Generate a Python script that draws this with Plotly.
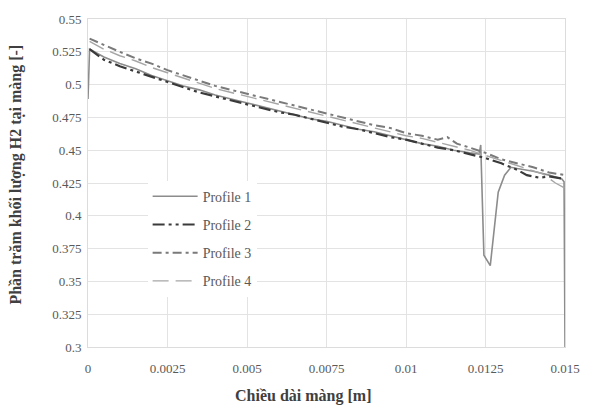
import plotly.graph_objects as go

# ---- data ----
x1 = [0, 0.00005, 0.0005, 0.001, 0.0015, 0.002, 0.0025, 0.003, 0.0035, 0.004, 0.0045, 0.005,
      0.0055, 0.006, 0.0065, 0.007, 0.0075, 0.008, 0.0085, 0.009, 0.0095, 0.010, 0.0105, 0.011,
      0.0115, 0.012, 0.0123, 0.01235, 0.01245, 0.01265, 0.0128, 0.0129, 0.0131, 0.0133, 0.0135,
      0.014, 0.0145, 0.0149, 0.01497, 0.01500]
profile1 = [0.489, 0.527, 0.521, 0.516, 0.512, 0.507, 0.503, 0.499, 0.496, 0.492, 0.489, 0.486,
            0.483, 0.480, 0.477, 0.474, 0.472, 0.469, 0.466, 0.464, 0.461, 0.458, 0.455, 0.453,
            0.450, 0.448, 0.447, 0.454, 0.370, 0.362, 0.395, 0.418, 0.431, 0.437, 0.436,
            0.434, 0.431, 0.428, 0.426, 0.300]

x2 = [0.00005, 0.0005, 0.001, 0.0015, 0.002, 0.0025, 0.003, 0.0035, 0.004, 0.0045, 0.005, 0.0055,
      0.006, 0.0065, 0.007, 0.0075, 0.008, 0.0085, 0.009, 0.0095, 0.010, 0.0105, 0.011, 0.0115,
      0.012, 0.0125, 0.013, 0.0135, 0.0138, 0.0142, 0.0145, 0.015]
profile2 = [0.527, 0.519, 0.514, 0.510, 0.506, 0.502, 0.498, 0.494, 0.491, 0.488, 0.485, 0.482,
            0.479, 0.477, 0.474, 0.471, 0.468, 0.466, 0.463, 0.460, 0.458, 0.455, 0.452, 0.450,
            0.447, 0.444, 0.440, 0.435, 0.431, 0.429, 0.430, 0.428]

x3 = [0.00005, 0.0005, 0.001, 0.0015, 0.002, 0.0025, 0.003, 0.0035, 0.004, 0.0045, 0.005, 0.0055,
      0.006, 0.0065, 0.007, 0.0075, 0.008, 0.0085, 0.009, 0.0095, 0.010, 0.0105, 0.011, 0.0113,
      0.0116, 0.012, 0.0125, 0.013, 0.0135, 0.014, 0.0145, 0.015]
profile3 = [0.535, 0.530, 0.525, 0.520, 0.516, 0.511, 0.507, 0.503, 0.499, 0.496, 0.493, 0.490,
            0.487, 0.484, 0.481, 0.478, 0.475, 0.472, 0.469, 0.467, 0.463, 0.461, 0.458, 0.460,
            0.455, 0.452, 0.448, 0.443, 0.440, 0.437, 0.433, 0.431]

x4 = [0.00005, 0.0005, 0.001, 0.0015, 0.002, 0.0025, 0.003, 0.0035, 0.004, 0.0045, 0.005, 0.0055,
      0.006, 0.0065, 0.007, 0.0075, 0.008, 0.0085, 0.009, 0.0095, 0.010, 0.0105, 0.011, 0.0115,
      0.012, 0.0125, 0.013, 0.0135, 0.014, 0.0143, 0.0147, 0.015]
profile4 = [0.533, 0.527, 0.522, 0.518, 0.513, 0.509, 0.505, 0.501, 0.497, 0.494, 0.491, 0.488,
            0.485, 0.482, 0.479, 0.476, 0.473, 0.470, 0.467, 0.464, 0.461, 0.459, 0.456, 0.453,
            0.450, 0.446, 0.442, 0.438, 0.434, 0.432, 0.425, 0.421]

names = ["Profile 1", "Profile 2", "Profile 3", "Profile 4"]
x_ticks = [0, 0.0025, 0.005, 0.0075, 0.01, 0.0125, 0.015]
x_ticktext = ["0", "0.0025", "0.005", "0.0075", "0.01", "0.0125", "0.015"]
y_ticks = [0.3, 0.325, 0.35, 0.375, 0.4, 0.425, 0.45, 0.475, 0.5, 0.525, 0.55]
y_ticktext = ["0.3", "0.325", "0.35", "0.375", "0.4", "0.425", "0.45", "0.475", "0.5", "0.525", "0.55"]
x_title = "Chiều dài màng [m]"
y_title = "Phần trăm khối lượng H2 tại màng [-]"

# ---- styles ----
styles = [
    dict(color="#8c8c8c", width=1.6, dash="solid"),
    dict(color="#3a3a3a", width=2.2, dash="12px,4px,3px,4px,3px,4px"),
    dict(color="#7a7a7a", width=2.0, dash="9px,4px,3px,4px"),
    dict(color="#a6a6a6", width=1.4, dash="16px,7px"),
]

fig = go.Figure()
for xs, ys, nm, st, grp in zip([x1, x2, x3, x4], [profile1, profile2, profile3, profile4],
                                names, styles, ["a", "b", "c", "d"]):
    fig.add_trace(go.Scatter(x=xs, y=ys, mode="lines", name=nm, line=st, legendgroup=grp))

serif = "Liberation Serif"
tick_font = dict(family=serif, size=13, color="#595959")
title_font = dict(family=serif, size=16, color="#404040", weight="bold")

fig.update_layout(
    width=598, height=408,
    margin=dict(l=88, r=33, t=14, b=61),
    paper_bgcolor="white", plot_bgcolor="white",
    font=dict(family=serif, size=13, color="#595959"),
    showlegend=True,
    legend=dict(
        x=0.125, y=0.507, xanchor="left", yanchor="top",
        bgcolor="white", borderwidth=0,
        font=dict(family=serif, size=14, color="#595959"),
        traceorder="grouped", tracegroupgap=7, itemwidth=45,
    ),
    xaxis=dict(
        range=[0, 0.015], tickvals=x_ticks, ticktext=x_ticktext,
        showgrid=True, gridcolor="#e3e3e3", gridwidth=1, zeroline=False,
        showline=True, linecolor="#dcdcdc", mirror=True, ticks="",
        tickfont=tick_font, ticklabelstandoff=9,
    ),
    yaxis=dict(
        range=[0.3, 0.55], tickvals=y_ticks, ticktext=y_ticktext,
        showgrid=True, gridcolor="#e3e3e3", gridwidth=1, zeroline=False,
        showline=True, linecolor="#dcdcdc", mirror=True, ticks="",
        tickfont=tick_font, ticklabelstandoff=3,
    ),
    annotations=[
        dict(text=x_title, xref="paper", yref="paper", x=0.4507, y=-0.150,
             xanchor="center", yanchor="middle", showarrow=False, font=title_font),
        dict(text=y_title, xref="paper", yref="paper", x=-0.151, y=0.5255,
             xanchor="center", yanchor="middle", showarrow=False, textangle=-90,
             font=title_font),
    ],
)

fig.write_html("out.html")
